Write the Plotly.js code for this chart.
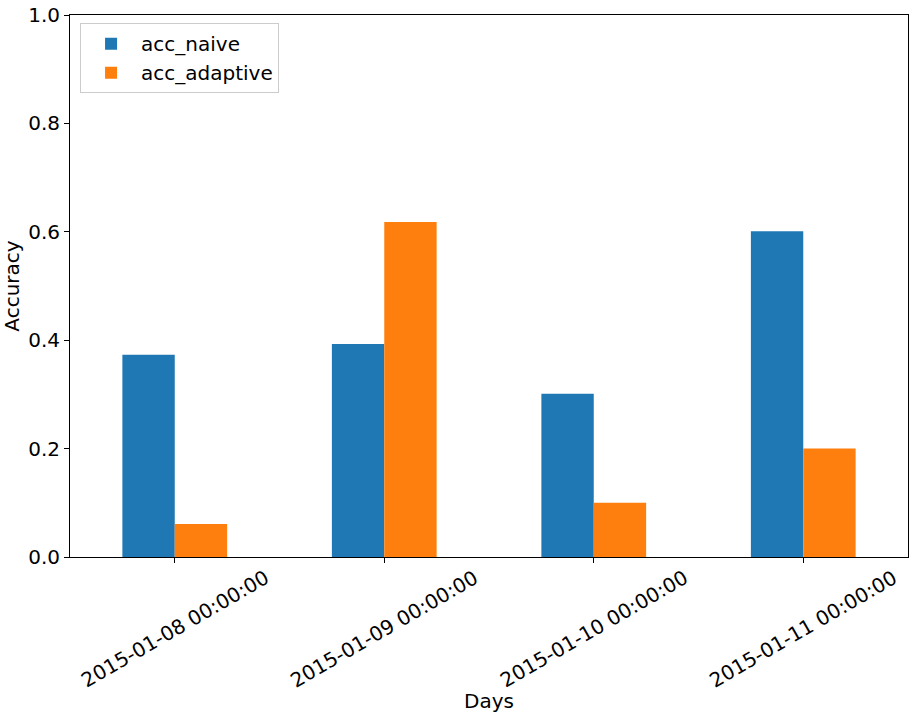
<!DOCTYPE html>
<html>
<head>
<meta charset="utf-8">
<script src="https://cdn.plot.ly/plotly-3.0.1.min.js"></script>
<style>
  body { margin: 0; background: #fff; }
  #chart { width: 916px; height: 718px; }
</style>
</head>
<body>
<div id="chart"></div>
<script>
// data
var days = ["2015-01-08 00:00:00", "2015-01-09 00:00:00", "2015-01-10 00:00:00", "2015-01-11 00:00:00"];
var accNaive = [0.373, 0.393, 0.301, 0.601];
var accAdaptive = [0.061, 0.618, 0.100, 0.200];
var yTicks = [0, 0.2, 0.4, 0.6, 0.8, 1.0];

var font = { family: "DejaVu Sans", size: 20, color: "#000" };

var traces = [
    { x: days, y: accNaive, type: "bar", name: "acc_naive",
      marker: { color: "#1f77b4", line: { width: 0 } } },
    { x: days, y: accAdaptive, type: "bar", name: "acc_adaptive",
      marker: { color: "#ff7f0e", line: { width: 0 } } }
];

// matplotlib style rotated labels, centred under the tick
var labels = days.map(function (d) {
    return {
        x: d, xref: "x", y: 0, yref: "paper",
        text: d, showarrow: false, textangle: -30,
        xanchor: "center", yanchor: "top", yshift: -6,
        font: font
    };
});

var layout = {
    width: 916,
    height: 718,
    margin: { l: 70, r: 8, t: 15, b: 161 },
    paper_bgcolor: "#fff",
    plot_bgcolor: "#fff",
    font: font,
    barmode: "group",
    bargap: 0.5,
    bargroupgap: 0,
    showlegend: true,
    legend: {
        x: 0.012, y: 0.985, xanchor: "left", yanchor: "top",
        bordercolor: "#cccccc", borderwidth: 1, bgcolor: "rgba(255,255,255,0.8)",
        itemwidth: 50,
        font: font
    },
    xaxis: {
        type: "category",
        range: [-0.5, 3.5],
        showticklabels: false,
        ticks: "outside", ticklen: 5, tickcolor: "#000",
        showline: true, mirror: true, linecolor: "#000", linewidth: 1,
        showgrid: false, zeroline: false,
        title: { text: "Days", font: font, standoff: 131 }
    },
    yaxis: {
        range: [0, 1],
        tickvals: yTicks,
        tickformat: ".1f",
        ticks: "outside", ticklen: 5, tickcolor: "#000",
        showline: true, mirror: true, linecolor: "#000", linewidth: 1,
        showgrid: false, zeroline: false,
        tickfont: font,
        title: { text: "Accuracy", font: font, standoff: 12 }
    },
    annotations: labels
};

Plotly.newPlot("chart", traces, layout, { displayModeBar: false, staticPlot: true });
</script>
</body>
</html>
